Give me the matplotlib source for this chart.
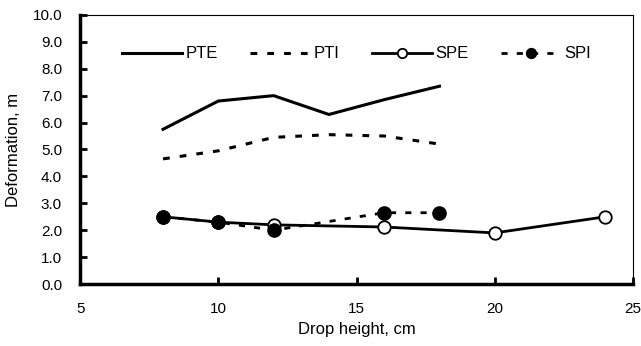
import matplotlib
matplotlib.use("Agg")
import matplotlib.pyplot as plt

plt.rcParams['font.family'] = ['Liberation Sans', 'DejaVu Sans']

# Data
pte_x = [8, 10, 12, 14, 16, 18]
pte_y = [5.75, 6.8, 7.0, 6.3, 6.85, 7.35]
pti_x = [8, 10, 12, 14, 16, 18]
pti_y = [4.65, 4.95, 5.45, 5.55, 5.5, 5.2]
spe_x = [8, 10, 12, 16, 20, 24]
spe_y = [2.5, 2.3, 2.2, 2.12, 1.9, 2.5]
spi_x = [8, 10, 12, 16, 18]
spi_y = [2.5, 2.3, 2.0, 2.65, 2.65]

xticks = [5, 10, 15, 20, 25]
yticks = [0, 1, 2, 3, 4, 5, 6, 7, 8, 9, 10]

fig = plt.figure(figsize=(6.41, 3.46), dpi=100)
ax = fig.add_axes([0.125, 0.179, 0.8625, 0.778])

ax.plot(pte_x, pte_y, color='black', lw=2.2, label='PTE')
ax.plot(pti_x, pti_y, color='black', lw=2.2, ls=(0, (2.2, 3.3)), label='PTI')
ax.plot(spe_x, spe_y, color='black', lw=2.0, marker='o', ms=9,
        mfc='white', mec='black', mew=1.3, label='SPE')
ax.plot(spi_x, spi_y, color='black', lw=2.0, ls=(0, (2.2, 3.3)), marker='o', ms=9.5,
        mfc='black', mec='black', label='SPI')

ax.set_xlim(5, 25)
ax.set_ylim(0, 10)
ax.set_xticks(xticks)
ax.set_yticks(yticks)
ax.set_yticklabels([f"{v:.1f}" for v in yticks])
ax.tick_params(direction='in', length=5, width=2, labelsize=11)
ax.tick_params(axis='y', pad=13)
ax.tick_params(axis='x', pad=13)

ax.spines['left'].set_linewidth(2.5)
ax.spines['bottom'].set_linewidth(2.5)
ax.spines['top'].set_linewidth(0.8)
ax.spines['right'].set_linewidth(0.8)

ax.set_xlabel('Drop height, cm', fontsize=12, labelpad=4)
ax.set_ylabel('Deformation, m', fontsize=12, labelpad=8)

ax.legend(loc='center', ncol=4, frameon=False, fontsize=12,
          bbox_to_anchor=(0.5, 0.855), handlelength=3.6, columnspacing=1.9,
          handletextpad=0.25, markerscale=0.75)

fig.savefig('out.png', dpi=100)
